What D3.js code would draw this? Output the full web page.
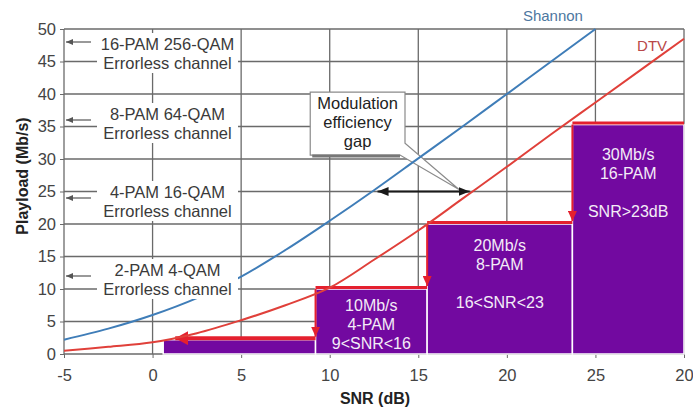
<!DOCTYPE html>
<html lang="en">
<head>
<meta charset="UTF-8">
<title>Payload vs SNR</title>
<script src="https://d3js.org/d3.v7.min.js"></script>
<style>
  body {
    margin: 0;
    background: #fff;
    font-family: "Liberation Sans", Arial, sans-serif;
  }
  .grid line { stroke: #6a6a6a; stroke-width: 1.3; }
  .axis text { font-size: 16.5px; fill: #444; font-family: "Liberation Sans", Arial, sans-serif; }
  .axis line { stroke: #6a6a6a; }
  .axis path { display: none; }
</style>
</head>
<body>
<div id="chart"></div>
<script>

// ------ data ------

const snrTicks = [-5, 0, 5, 10, 15, 20, 25, 30];
const snrTickLabels = ["-5", "0", "5", "10", "15", "20", "25", "20"];
const payloadTicks = [0, 5, 10, 15, 20, 25, 30, 35, 40, 45, 50];

const shannonSnr  = [-5, -2.5, 0, 2.5, 5, 7.5, 10, 12.5, 15, 17.5, 20, 22.5, 25];
const shannonRate = [2.2, 3.9, 6, 8.6, 11.9, 16, 20.5, 25.2, 30.1, 35, 40, 45, 50];

const dtvSnr  = [-5, -2.5, 0, 2.5, 5, 7.5, 10, 12.5, 15, 17.5, 20, 22.5, 25, 27.5, 30];
const dtvRate = [0.5, 1.1, 1.8, 3.2, 5.2, 7.5, 10.2, 14.5, 19, 23.9, 28.8, 33.8, 38.7, 43.6, 48.5];

const modNames = ["16-PAM 256-QAM", "8-PAM 64-QAM", "4-PAM 16-QAM", "2-PAM 4-QAM"];
const modRates = [48, 36, 24, 12];

const barFrom = [0.6, 9.2, 15.5, 23.7];
const barTo   = [9.2, 15.5, 23.7, 30];
const barRate = [2.2, 10, 20, 35.3];
const barText = [
  [],
  ["10Mb/s", "4-PAM", "9<SNR<16"],
  ["20Mb/s", "8-PAM", "", "16<SNR<23"],
  ["30Mb/s", "16-PAM", "", "SNR>23dB"]
];

const gapFrom = 12.7, gapTo = 17.9, gapRate = 25;

// ------ chart ------

const W = 693, H = 409;
const x = d3.scaleLinear().domain([-5, 30]).range([64, 684]);
const y = d3.scaleLinear().domain([0, 50]).range([354, 29]);

const blue = "#3f7db8", red = "#e0403a", purple = "#7209a0", stair = "#e4202e";

const svg = d3.select("#chart").append("svg")
    .attr("width", W).attr("height", H);

const defs = svg.append("defs");
function marker(id, color, w, h) {
  defs.append("marker")
      .attr("id", id)
      .attr("viewBox", `0 ${-h / 2} ${w} ${h}`)
      .attr("refX", w).attr("refY", 0)
      .attr("markerUnits", "userSpaceOnUse")
      .attr("markerWidth", w).attr("markerHeight", h)
      .attr("orient", "auto-start-reverse")
    .append("path")
      .attr("d", `M0,${-h / 2}L${w},0L0,${h / 2}Z`)
      .attr("fill", color);
}
marker("arrGray", "#555", 7, 6);
marker("arrBlack", "#1a1a1a", 11, 9);
marker("arrRed", stair, 10, 9);
marker("arrRedBig", stair, 13, 14);

// grid
const grid = svg.append("g").attr("class", "grid");
grid.selectAll("line.v")
  .data(snrTicks)
  .join("line").attr("class", "v")
    .attr("x1", d => x(d)).attr("x2", d => x(d))
    .attr("y1", y(50)).attr("y2", y(0));
grid.selectAll("line.h")
  .data(payloadTicks)
  .join("line").attr("class", "h")
    .attr("x1", x(-5)).attr("x2", x(30))
    .attr("y1", d => y(d)).attr("y2", d => y(d));

// axes
svg.append("g").attr("class", "axis")
    .attr("transform", `translate(${x(-5)},0)`)
    .call(d3.axisLeft(y).tickValues(payloadTicks).tickSize(4).tickPadding(4));
svg.append("g").attr("class", "axis")
    .attr("transform", `translate(0,${y(0)})`)
    .call(d3.axisBottom(x).tickValues(snrTicks)
      .tickFormat((d, i) => snrTickLabels[i]).tickSize(4).tickPadding(11));

svg.append("text")
    .attr("transform", `translate(22,176) rotate(-90)`)
    .attr("text-anchor", "middle").attr("dy", "0.35em")
    .style("font-size", "16px").style("font-weight", "bold").style("fill", "#222")
    .text("Playload (Mb/s)");
svg.append("text")
    .attr("x", 375).attr("y", 404)
    .attr("text-anchor", "middle")
    .style("font-size", "16px").style("font-weight", "bold").style("fill", "#222")
    .text("SNR (dB)");

// callout box (under the curves)
const cb = { x0: x(8.9), x1: x(14.25), y0: y(40.3), y1: y(30.6) };
const tip = [x(17.3), y(25.3)];
const callout = svg.append("g");
callout.append("path")
    .attr("d", `M${cb.x0},${cb.y0}H${cb.x1}V${cb.y1 - 12}L${tip[0]},${tip[1]}L${cb.x1 - 5},${cb.y1}H${cb.x0}Z`)
    .attr("fill", "#fff").attr("stroke", "#8a8a8a").attr("stroke-width", 1.2);
callout.append("line")
    .attr("x1", cb.x0 + 2).attr("x2", cb.x1 - 5)
    .attr("y1", cb.y1 + 1).attr("y2", cb.y1 + 1)
    .attr("stroke", "#777").attr("stroke-width", 3);
callout.selectAll("text")
  .data(["Modulation", "efficiency", "gap"])
  .join("text")
    .attr("x", (cb.x0 + cb.x1) / 2)
    .attr("y", (d, i) => cb.y0 + 17 + i * 19)
    .attr("text-anchor", "middle")
    .style("font-size", "16.5px").style("fill", "#222")
    .text(d => d);

// bars
const bars = svg.append("g");
bars.selectAll("rect")
  .data(barRate)
  .join("rect")
    .attr("x", (d, i) => x(barFrom[i]))
    .attr("width", (d, i) => x(barTo[i]) - x(barFrom[i]))
    .attr("y", d => y(d))
    .attr("height", d => y(0) - y(d))
    .attr("fill", purple)
    .attr("stroke", "#fff").attr("stroke-width", 1.5);

// red staircase along the bar tops
const st = svg.append("g").attr("stroke", stair).attr("fill", "none");
barRate.forEach((r, i) => {
  const left = i === 0 ? x(barFrom[i]) + 12 : x(barFrom[i]);
  st.append("line")
      .attr("x1", x(barTo[i])).attr("x2", left)
      .attr("y1", y(r) - 1.5).attr("y2", y(r) - 1.5)
      .attr("stroke-width", i === 0 ? 4 : 3)
      .attr("marker-end", i === 0 ? "url(#arrRedBig)" : null);
  if (i > 0) {
    st.append("line")
        .attr("x1", x(barFrom[i])).attr("x2", x(barFrom[i]))
        .attr("y1", y(r)).attr("y2", y(barRate[i - 1]) - 3)
        .attr("stroke-width", 2)
        .attr("marker-end", "url(#arrRed)");
  }
});

const firstLine = [0, 16, 21, 30];
bars.selectAll("g")
  .data(barText)
  .join("g")
  .each(function(lines, i) {
    d3.select(this).selectAll("text")
      .data(lines)
      .join("text")
        .attr("x", (x(barFrom[i]) + x(barTo[i])) / 2)
        .attr("y", (d, j) => y(barRate[i]) + firstLine[i] + j * 19)
        .attr("dy", "0.35em")
        .attr("text-anchor", "middle")
        .style("font-size", "16px").style("fill", "#f4ecf7")
        .text(d => d);
  });

// curves
const line = d3.line().curve(d3.curveCatmullRom.alpha(0.5));
svg.append("path")
    .attr("d", line(shannonSnr.map((s, i) => [x(s), y(shannonRate[i])])))
    .attr("fill", "none").attr("stroke", blue).attr("stroke-width", 2);
svg.append("path")
    .attr("d", line(dtvSnr.map((s, i) => [x(s), y(dtvRate[i])])))
    .attr("fill", "none").attr("stroke", red).attr("stroke-width", 2);

svg.append("text").attr("x", x(22.6)).attr("y", 21)
    .attr("text-anchor", "middle")
    .style("font-size", "15px").style("fill", "#4d77a0").text("Shannon");
svg.append("text").attr("x", x(28.2)).attr("y", 51)
    .attr("text-anchor", "middle")
    .style("font-size", "15px").style("fill", "#b84848").text("DTV");

// modulation efficiency gap arrow
svg.append("line")
    .attr("x1", x(gapFrom)).attr("x2", x(gapTo))
    .attr("y1", y(gapRate)).attr("y2", y(gapRate))
    .attr("stroke", "#1a1a1a").attr("stroke-width", 2)
    .attr("marker-start", "url(#arrBlack)")
    .attr("marker-end", "url(#arrBlack)");

// errorless channel labels
const labels = svg.append("g");
modNames.forEach((name, i) => {
  const c1 = Math.max(y(modRates[i]) - 6, 44);
  const c2 = c1 + 19;
  const g = labels.append("g");
  g.append("rect")
      .attr("x", 97).attr("width", 141)
      .attr("y", c1 - 11).attr("height", c2 - c1 + 21)
      .attr("fill", "#fff");
  g.selectAll("text")
    .data([name, "Errorless channel"])
    .join("text")
      .attr("x", 167.5)
      .attr("y", (d, j) => j ? c2 : c1)
      .attr("dy", "0.35em")
      .attr("text-anchor", "middle")
      .style("font-size", "16.5px").style("fill", "#3a3a3a")
      .text(d => d);
  g.append("line")
      .attr("x1", 91).attr("x2", x(-5) + 2)
      .attr("y1", y(modRates[i])).attr("y2", y(modRates[i]))
      .attr("stroke", "#555").attr("stroke-width", 1.2)
      .attr("marker-end", "url(#arrGray)");
});

</script>
</body>
</html>
